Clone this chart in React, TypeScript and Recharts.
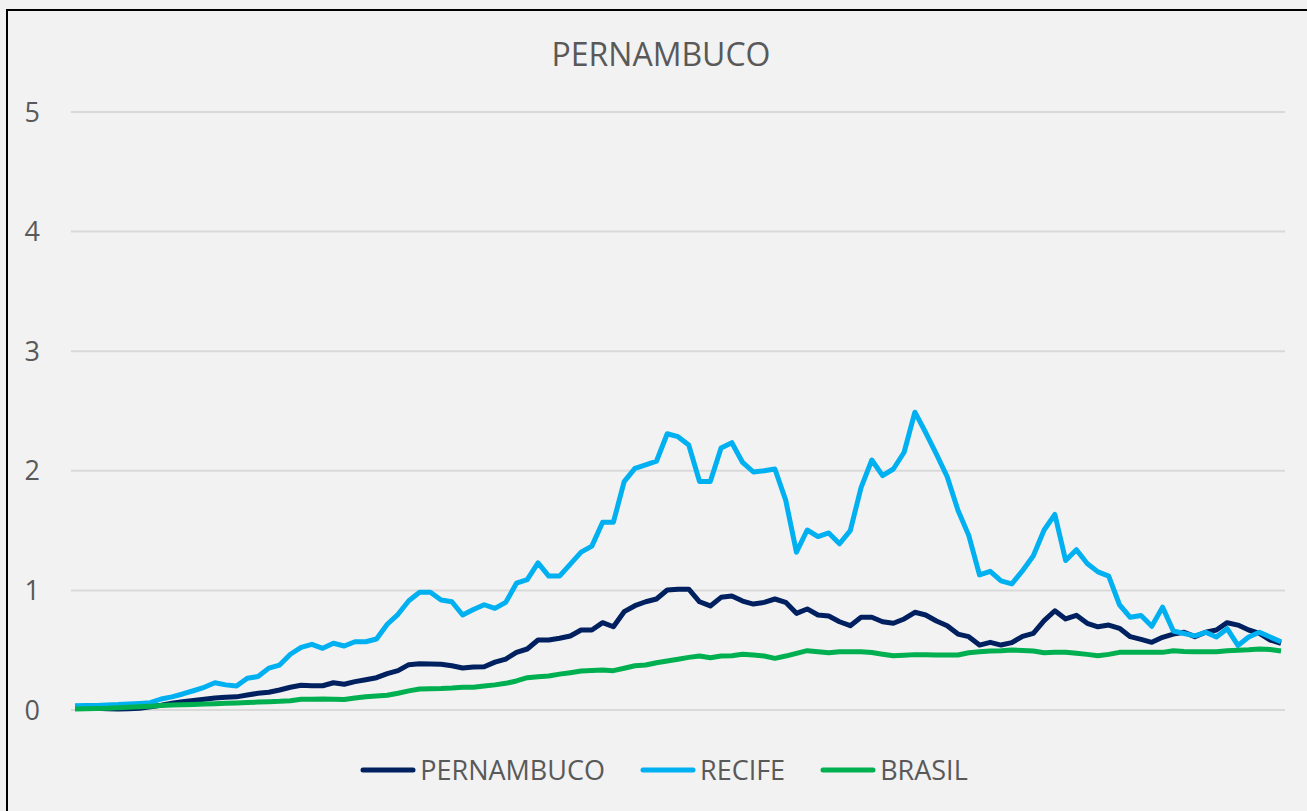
import React from "react";
import { LineChart, Line, XAxis, YAxis, CartesianGrid, Legend } from "recharts";

const TITLE = "PERNAMBUCO";
const Y_TICKS = [0, 1, 2, 3, 4, 5];

const PERNAMBUCO = [
  0.02, 0.02, 0.015, 0.01, 0.008, 0.01, 0.015, 0.028, 0.04, 0.056,
  0.07, 0.08, 0.09, 0.1, 0.106, 0.11, 0.125, 0.14, 0.148, 0.167,
  0.19, 0.207, 0.203, 0.203, 0.228, 0.215, 0.237, 0.253, 0.27, 0.304,
  0.329, 0.379, 0.387, 0.385, 0.382, 0.37, 0.351, 0.36, 0.362, 0.4,
  0.426, 0.482, 0.51, 0.585, 0.585, 0.6, 0.619, 0.669, 0.669, 0.73,
  0.696, 0.822, 0.872, 0.905, 0.928, 1.003, 1.01, 1.01, 0.905, 0.87,
  0.942, 0.953, 0.911, 0.886, 0.9, 0.928, 0.9, 0.808, 0.845, 0.794,
  0.786, 0.738, 0.705, 0.775, 0.775, 0.738, 0.725, 0.761, 0.817, 0.794,
  0.744, 0.705, 0.635, 0.613, 0.543, 0.566, 0.543, 0.563, 0.616, 0.641,
  0.747, 0.83, 0.761, 0.792, 0.725, 0.696, 0.71, 0.683, 0.613, 0.591,
  0.566, 0.608, 0.635, 0.65, 0.613, 0.65, 0.669, 0.73, 0.71, 0.669,
  0.641, 0.585, 0.558,
];

const RECIFE = [
  0.035, 0.037, 0.038, 0.042, 0.045, 0.05, 0.055, 0.061, 0.092, 0.11,
  0.134, 0.161, 0.19, 0.228, 0.21, 0.2, 0.265, 0.28, 0.35, 0.376,
  0.466, 0.524, 0.549, 0.516, 0.558, 0.535, 0.571, 0.571, 0.594, 0.717,
  0.8, 0.914, 0.984, 0.984, 0.92, 0.905, 0.794, 0.84, 0.88, 0.85,
  0.9, 1.06, 1.09, 1.23, 1.12, 1.12, 1.22, 1.32, 1.37, 1.57,
  1.57, 1.91, 2.02, 2.05, 2.08, 2.31, 2.285, 2.215, 1.91, 1.91,
  2.19, 2.235, 2.07, 1.99, 2.0, 2.015, 1.755, 1.32, 1.505, 1.45,
  1.48, 1.39, 1.5, 1.86, 2.09, 1.96, 2.015, 2.155, 2.49, 2.32,
  2.14, 1.95, 1.67, 1.46, 1.13, 1.16, 1.08, 1.055, 1.165, 1.29,
  1.505, 1.635, 1.25, 1.34, 1.225, 1.155, 1.12, 0.88, 0.775, 0.79,
  0.7, 0.86, 0.66, 0.64, 0.62, 0.65, 0.61, 0.68, 0.54, 0.61,
  0.65, 0.61, 0.57,
];

const BRASIL = [
  0.008, 0.01, 0.012, 0.014, 0.018, 0.022, 0.027, 0.032, 0.037, 0.041,
  0.044, 0.047, 0.05, 0.053, 0.056, 0.059, 0.062, 0.066, 0.07, 0.073,
  0.078, 0.089, 0.09, 0.092, 0.09, 0.087, 0.1, 0.11, 0.118, 0.123,
  0.14, 0.16, 0.176, 0.178, 0.18, 0.184, 0.19, 0.19, 0.2, 0.21,
  0.223, 0.243, 0.27, 0.278, 0.284, 0.3, 0.312, 0.326, 0.33, 0.334,
  0.329, 0.349, 0.37, 0.376, 0.395, 0.41, 0.425, 0.44, 0.451, 0.437,
  0.451, 0.454, 0.466, 0.46, 0.451, 0.432, 0.451, 0.474, 0.496, 0.487,
  0.479, 0.487, 0.487, 0.487, 0.48, 0.466, 0.454, 0.458, 0.463, 0.462,
  0.46, 0.46, 0.46, 0.479, 0.487, 0.493, 0.495, 0.502, 0.498, 0.493,
  0.479, 0.482, 0.482, 0.474, 0.465, 0.454, 0.465, 0.482, 0.482, 0.482,
  0.482, 0.482, 0.496, 0.49, 0.487, 0.487, 0.487, 0.496, 0.5, 0.503,
  0.51, 0.505, 0.493,
];

const CATEGORIES = PERNAMBUCO.map((_, i) => `P${i + 1}`);

const SERIES = [
  { key: "PERNAMBUCO", color: "#002060", values: PERNAMBUCO },
  { key: "RECIFE", color: "#00B0F0", values: RECIFE },
  { key: "BRASIL", color: "#00B050", values: BRASIL },
];

const data = CATEGORIES.map((c, i) => ({
  cat: c,
  PERNAMBUCO: PERNAMBUCO[i],
  RECIFE: RECIFE[i],
  BRASIL: BRASIL[i],
}));

const FONT = '"Open Sans", "Noto Sans", sans-serif';
const TEXT = "#595959";

const renderLegend = () => (
  <div
    style={{
      display: "flex",
      justifyContent: "center",
      alignItems: "center",
      height: 40,
      paddingLeft: 56,
      fontFamily: FONT,
    }}
  >
    {SERIES.map((s) => (
      <div key={s.key} style={{ display: "flex", alignItems: "center", marginRight: 35 }}>
        <svg width={56} height={10}>
          <line x1={3} y1={5} x2={53} y2={5} stroke={s.color} strokeWidth={5} strokeLinecap="round" />
        </svg>
        <span style={{ marginLeft: 4, fontSize: 27, color: TEXT, lineHeight: "40px" }}>{s.key}</span>
      </div>
    ))}
  </div>
);

export default function App() {
  return (
    <div
      style={{
        position: "relative",
        width: 1307,
        height: 811,
        background: "#f2f2f2",
        overflow: "hidden",
        fontFamily: FONT,
      }}
    >
      <style>{`html,body{margin:0;padding:0;overflow:hidden;background:#f2f2f2}`}</style>
      <div
        style={{
          position: "absolute",
          left: 6,
          top: 9,
          width: 1400,
          height: 900,
          borderTop: "2px solid #000",
          borderLeft: "2px solid #000",
          boxSizing: "border-box",
        }}
      />
      <svg
        width={1307}
        height={100}
        style={{ position: "absolute", left: 0, top: 0, pointerEvents: "none" }}
      >
        <text x={661} y={66} textAnchor="middle" fontFamily={FONT} fontSize={32} fill={TEXT}>
          {TITLE}
        </text>
      </svg>
      <div style={{ position: "absolute", left: 0, top: 0 }}>
        <LineChart
          width={1307}
          height={811}
          data={data}
          margin={{ top: 112, right: 22, bottom: 61, left: 0 }}
        >
          <CartesianGrid horizontal vertical={false} stroke="#d9d9d9" strokeWidth={2} />
          <XAxis dataKey="cat" hide padding={{ left: 4, right: 4 }} />
          <YAxis
            width={71}
            domain={[0, 5]}
            ticks={Y_TICKS}
            tickLine={false}
            axisLine={false}
            tickMargin={25}
            tick={{ fill: TEXT, fontSize: 27, fontFamily: FONT }}
          />
          <Legend
            verticalAlign="bottom"
            content={renderLegend}
            wrapperStyle={{ left: 0, width: 1307, height: 40, bottom: 21 }}
          />
          {SERIES.map((s) => (
            <Line
              key={s.key}
              type="linear"
              dataKey={s.key}
              stroke={s.color}
              strokeWidth={5}
              dot={false}
              activeDot={false}
              isAnimationActive={false}
              strokeLinejoin="round"
            />
          ))}
        </LineChart>
      </div>
    </div>
  );
}
